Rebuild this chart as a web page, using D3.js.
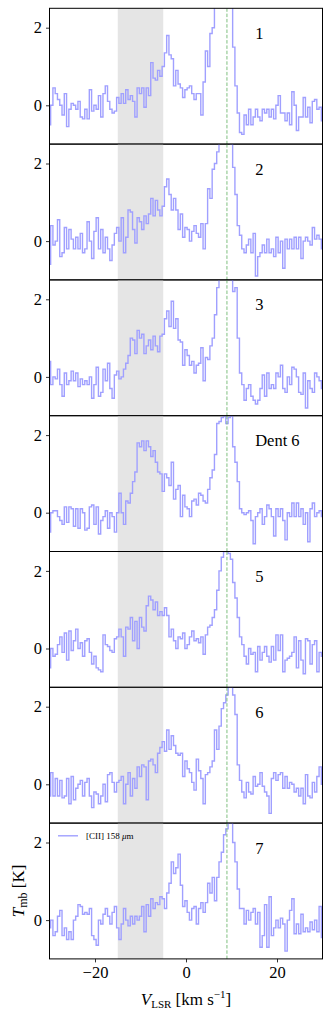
<!DOCTYPE html>
<html><head><meta charset="utf-8">
<script src="https://cdn.jsdelivr.net/npm/d3@7"></script>
<style>body{margin:0;background:#fff}svg{display:block}text{font-family:"Liberation Serif",serif}</style>
</head><body><svg id="c" width="332" height="1018"></svg>
<script>
const vStart = -30, vStep = 0.5;
const panelLabels = ["1","2","3","Dent 6","5","6","7"];
const xTicks = [-20, 0, 20];
const yTicks = [0, 2];
const bandRange = [-15, -5];
const refVelocity = 9;
const legendLabel = "[CII] 158 ";

const p1 = [-0.5,0.0,0.45,0.3,0.15,0.0,-0.25,0.3,-0.55,-0.1,
0.05,0.0,-0.1,0.1,-0.3,-0.35,-0.1,-0.35,0.4,-0.15,
0.0,-0.1,0.25,-0.3,0.3,0.5,0.1,-0.1,-0.2,-0.15,
0.2,0.05,0.3,0.05,0.4,0.15,0.25,0.1,-0.3,0.45,
0.3,0.45,-0.05,0.45,0.25,1.1,0.7,0.65,0.9,0.75,
1.0,1.35,1.8,1.3,1.2,0.5,0.9,0.55,0.45,0.2,
0.4,0.45,0.5,0.3,0.15,0.3,0.3,-0.25,0.6,1.4,
1.0,1.85,2.0,2.7,2.6,3.0,3.3,3.2,3.0,2.8,
2.6,1.5,0.5,-0.2,-0.7,-0.75,-0.25,-0.5,-0.1,-0.5,
-0.3,-0.1,-0.3,-0.4,-0.1,-0.2,-0.1,-0.3,-0.1,-0.35,
0.0,0.25,-0.2,-0.2,-0.4,-0.2,-0.5,0.35,0.0,-0.65,
-0.3,-0.3,0.2,-0.3,-0.05,-0.45,0.1,0.15,-0.1,-0.05,
-0.4];
const p2 = [-0.6,0.4,-0.1,0.0,0.55,-0.4,-0.3,0.35,-0.2,0.3,
0.05,-0.2,0.1,-0.2,0.2,-0.3,-0.2,0.5,0.0,-0.45,
0.25,0.6,-0.2,0.3,-0.3,0.1,-0.2,-0.5,-0.1,0.2,
0.35,0.0,0.6,-0.3,0.1,0.8,0.75,0.3,-0.05,0.6,
0.5,0.3,0.65,0.45,0.7,1.1,0.65,1.05,0.8,0.65,
0.9,1.4,1.6,1.2,0.8,1.1,0.8,0.3,0.7,0.1,
0.35,0.3,0.0,0.25,0.4,0.2,0.1,0.45,-0.2,0.45,
1.35,1.1,1.85,2.0,2.3,2.8,3.2,3.4,3.3,3.0,
2.5,1.9,1.2,0.4,0.15,-0.2,-0.3,-0.1,0.05,-0.3,
0.2,-0.9,-0.4,-0.3,-0.1,-0.3,0.05,-0.3,-0.2,-0.4,
0.1,-0.3,0.0,-0.7,0.05,-0.2,0.05,-0.2,0.1,-0.2,
0.1,-0.45,0.0,0.1,0.0,-0.1,0.35,0.05,0.15,0.05,
-0.2];
const p3 = [0.4,-0.2,0.0,-0.05,0.2,-0.2,-0.5,0.1,-0.2,-0.1,
0.15,-0.1,0.1,-0.25,-0.05,-0.2,-0.1,-0.2,0.0,-0.55,
-0.2,0.25,-0.5,-0.4,0.2,-0.1,0.35,-0.3,-0.55,0.05,
0.15,-0.05,0.0,0.2,0.35,0.55,1.0,0.95,0.6,1.2,
1.0,1.1,0.6,0.8,0.95,0.7,1.05,0.8,0.65,1.05,
1.1,1.5,1.7,1.3,1.95,1.25,1.5,0.95,0.9,0.3,
0.7,0.55,0.3,0.4,0.1,0.3,0.35,0.75,-0.1,0.5,
0.45,0.8,1.0,1.6,2.3,2.9,3.3,3.5,3.2,2.9,
2.5,2.2,2.3,1.0,0.1,-0.2,-0.6,-0.3,-0.2,-0.5,
-0.6,-0.7,-0.6,-0.3,0.05,-0.5,0.1,-0.3,-0.2,-0.3,
0.1,0.0,0.3,-0.3,-0.4,0.0,-0.2,0.25,0.2,0.0,
-0.4,-0.45,0.1,-0.8,-0.1,-0.3,-0.4,0.1,0.0,-0.1,
-0.3];
const p4 = [-0.5,0.0,0.05,0.05,-0.1,-0.2,-0.3,0.15,-0.25,0.15,
0.1,-0.35,0.1,-0.4,0.1,0.0,-0.45,-0.4,0.15,0.2,
-0.3,0.15,-0.55,-0.2,-0.1,0.05,-0.4,0.0,-0.1,-0.5,
0.0,0.5,0.0,-0.3,0.3,0.25,0.5,0.8,1.05,1.8,
1.7,1.85,1.6,1.85,1.7,1.45,1.6,1.3,1.05,1.0,
0.55,1.0,0.9,0.7,1.3,0.35,0.6,0.7,-0.1,0.45,
0.15,0.1,-0.1,0.3,0.35,0.2,0.5,0.45,0.3,0.25,
0.6,0.9,1.1,1.5,2.3,2.35,2.45,2.5,2.3,2.45,
2.5,1.7,1.3,0.8,0.1,0.0,-0.05,0.0,0.05,-0.2,
-0.8,-0.1,0.0,0.1,-0.3,-0.1,0.2,0.1,-0.1,-0.6,
0.1,-0.1,0.1,-0.2,-0.7,0.0,-0.1,0.25,-0.1,0.25,
-0.1,0.1,-0.3,0.0,-0.75,0.1,0.25,-0.1,0.0,0.05,
-0.1];
const p5 = [-0.5,0.0,-0.2,-0.15,0.1,0.3,-0.1,0.4,-0.3,0.45,
-0.05,0.2,0.5,0.0,0.15,-0.2,0.2,0.25,-0.1,-0.4,
-0.2,-0.5,-0.55,-0.6,0.35,0.1,0.05,-0.05,-0.1,0.25,
0.3,0.5,0.3,-0.2,0.55,0.5,0.8,0.2,0.7,0.0,
0.8,0.55,0.45,1.1,1.35,1.25,1.0,1.2,0.85,0.95,
0.85,1.05,0.85,0.3,0.5,0.2,0.0,0.3,0.25,0.4,
0.0,0.1,0.3,0.45,0.2,0.25,0.15,0.3,-0.15,0.35,
0.55,0.6,0.8,1.0,1.5,2.0,2.35,2.5,2.55,2.45,
2.3,1.7,1.3,0.8,0.3,0.1,-0.2,-0.4,0.0,-0.15,
-0.1,-0.6,0.05,-0.3,-0.1,0.05,-0.2,-0.35,0.05,-0.3,
0.35,-0.05,0.35,-0.6,-0.3,-0.25,-0.2,-0.1,0.3,-0.5,
0.2,-0.3,-0.65,0.25,0.2,-0.4,0.1,0.2,-0.6,-0.1,
-0.2];
const p6 = [-0.3,0.3,-0.3,0.15,-0.3,0.1,-0.35,-0.3,0.15,-0.5,
0.2,-0.4,-0.1,0.0,0.1,-0.3,0.05,0.15,-0.3,-0.6,
-0.2,-0.25,-0.5,-0.3,0.0,-0.45,0.25,0.3,0.05,-0.2,
0.05,0.1,0.2,-0.5,0.0,0.3,-0.3,0.15,-0.1,0.45,
0.2,0.5,0.45,-0.4,0.6,0.65,0.5,0.3,0.8,0.95,
1.1,0.85,1.4,0.9,1.25,1.0,0.8,0.75,0.8,0.2,
0.6,0.4,0.3,0.05,-0.15,0.65,0.35,0.15,-0.5,0.25,
0.3,0.45,0.6,1.4,0.9,1.5,1.95,2.1,2.3,2.5,
2.5,2.3,1.8,0.5,0.1,-0.2,-0.35,0.05,-0.2,-0.25,
0.2,-0.05,0.0,0.3,-0.05,-0.2,-0.3,-0.75,0.15,0.3,
0.1,0.25,0.3,-0.1,0.2,-0.1,0.05,0.0,-0.2,-0.1,
-0.3,-0.1,-0.5,0.25,-0.3,-0.35,0.05,-0.2,0.2,0.45,
0.0];
const p7 = [-0.2,0.0,-0.4,-0.3,0.1,0.25,-0.4,-0.2,-0.5,-0.3,
-0.5,0.0,0.1,0.4,0.35,0.15,0.2,0.15,0.3,-0.4,
-0.5,-0.65,0.0,-0.1,0.15,0.3,0.1,-0.1,0.2,0.35,
-0.2,-0.5,-0.1,0.3,0.0,-0.15,0.1,-0.1,0.1,0.0,
0.1,0.35,-0.3,0.4,0.1,0.55,0.3,0.45,0.4,0.6,
0.55,0.3,0.7,0.95,1.5,1.2,1.35,1.7,0.9,0.35,
0.5,0.2,0.0,0.3,0.35,-0.1,0.3,0.45,0.2,0.45,
0.95,0.7,1.1,0.5,1.1,1.5,1.75,2.2,2.35,2.5,
2.5,2.0,1.5,0.8,0.3,0.3,-0.1,0.25,0.0,0.2,
0.3,-0.1,0.2,-0.7,-0.4,0.4,-0.7,0.6,-0.4,-0.2,
0.0,-0.2,0.05,-0.1,-0.8,0.0,0.25,0.55,-0.35,-0.1,
-0.35,0.15,-0.3,-0.2,-0.3,-0.05,-0.25,0.0,-0.3,0.35,
-0.45];
const panels = [p1,p2,p3,p4,p5,p6,p7];

const svg = d3.select("#c");
const L = 49.5, R = 322.5, T0 = 8.3, PH = 135.8;
const x = d3.scaleLinear().domain([-30, 30]).range([L, R]);
const lineColor = "#a0a0ff";

panels.forEach((vals, k) => {
  const top = T0 + k * PH;
  const y = d3.scaleLinear().domain([-1, 2.5]).range([top + PH, top]);
  const g = svg.append("g");
  const cid = "clip" + k;
  svg.append("clipPath").attr("id", cid).append("rect")
    .attr("x", L).attr("y", top).attr("width", R - L).attr("height", PH);
  const inner = g.append("g").attr("clip-path", `url(#${cid})`);
  inner.append("rect").attr("x", x(bandRange[0])).attr("y", top)
    .attr("width", x(bandRange[1]) - x(bandRange[0])).attr("height", PH).attr("fill", "#e5e5e5");
  const pts = vals.map((v, i) => [vStart + i * vStep, v]);
  inner.append("path").datum(pts)
    .attr("d", d3.line().x(d => x(d[0])).y(d => y(d[1])).curve(d3.curveStep))
    .attr("fill", "none").attr("stroke", lineColor).attr("stroke-width", 1.4);
  inner.append("line").attr("x1", x(refVelocity)).attr("x2", x(refVelocity))
    .attr("y1", top).attr("y2", top + PH)
    .attr("stroke", "#7fbf7f").attr("stroke-width", 1).attr("stroke-dasharray", "3.5,1.8");
  const ya = g.append("g").attr("transform", `translate(${L},0)`)
    .call(d3.axisLeft(y).tickValues(yTicks).tickSize(3.5).tickPadding(4).tickFormat(d3.format("d")));
  ya.select(".domain").remove();
  ya.selectAll("line").attr("stroke", "#000").attr("stroke-width", 0.8);
  ya.selectAll("text").attr("font-size", 16.5).attr("font-family", "Liberation Serif").attr("fill", "#000");
  g.append("rect").attr("x", L).attr("y", top).attr("width", R - L).attr("height", PH)
    .attr("fill", "none").attr("stroke", "#000").attr("stroke-width", 1);
  g.append("text").attr("x", x(15.2)).attr("y", top + 30.5).attr("font-size", 16.5)
    .attr("fill", "#000").text(panelLabels[k]);
  if (k === panels.length - 1) {
    const xa = g.append("g").attr("transform", `translate(0,${top + PH})`)
      .call(d3.axisBottom(x).tickValues(xTicks).tickSize(3.5).tickPadding(4).tickFormat(d3.format("d")));
    xa.select(".domain").remove();
    xa.selectAll("line").attr("stroke", "#000").attr("stroke-width", 0.8);
    xa.selectAll("text").attr("font-size", 16.5).attr("font-family", "Liberation Serif").attr("fill", "#000");
    g.append("line").attr("x1", 58).attr("x2", 78).attr("y1", top + 12.7).attr("y2", top + 12.7)
      .attr("stroke", lineColor).attr("stroke-width", 1.4);
    const lt = g.append("text").attr("x", 86).attr("y", top + 16).attr("font-size", 9).attr("fill", "#000");
    lt.append("tspan").text(legendLabel);
    lt.append("tspan").attr("font-style", "italic").text("μ");
    lt.append("tspan").text("m");
    const yl = svg.append("text").attr("transform", `translate(24,${top + PH / 2}) rotate(-90)`)
      .attr("text-anchor", "middle").attr("font-size", 17).attr("fill", "#000");
    yl.append("tspan").attr("font-style", "italic").text("T");
    yl.append("tspan").attr("font-size", 12).attr("dy", 3).text("mb");
    yl.append("tspan").attr("dy", -3).text(" [K]");
    const xl = svg.append("text").attr("x", (L + R) / 2).attr("y", 1005)
      .attr("text-anchor", "middle").attr("font-size", 17).attr("fill", "#000");
    xl.append("tspan").attr("font-style", "italic").text("V");
    xl.append("tspan").attr("font-size", 11).attr("dy", 3).text("LSR");
    xl.append("tspan").attr("dy", -3).text(" [km s");
    xl.append("tspan").attr("font-size", 11).attr("dy", -7).text("−1");
    xl.append("tspan").attr("dy", 7).text("]");
  }
});
</script></body></html>
